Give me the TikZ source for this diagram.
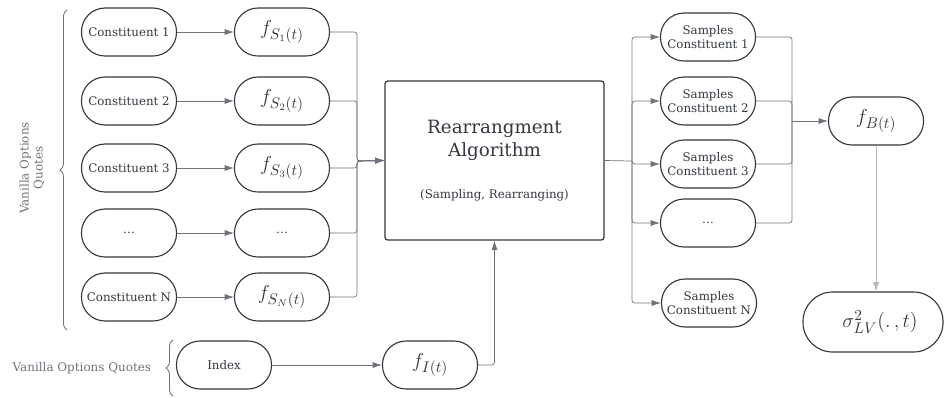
\documentclass[tikz,border=0pt]{standalone}
\usepackage{amsmath}
\usepackage{fontspec}
\setmainfont{DejaVu Serif}
\usepackage{xcolor}
\usepackage{tikz}
\usetikzlibrary{arrows.meta,decorations.pathreplacing}
\definecolor{ink}{HTML}{33383F}
\definecolor{wirec}{HTML}{6E737B}

\begin{document}
\begin{tikzpicture}[x=0.025cm,y=-0.025cm,>={Latex[length=2.3mm,width=1.5mm]},
  pill/.style={draw=ink,line width=0.8pt,rounded corners=0.59cm,
    minimum width=2.375cm,minimum height=1.2cm,inner sep=1pt,
    align=center,text=ink,font=\fontsize{8.4}{10}\selectfont},
  fpill/.style={pill,font=\fontsize{15}{17}\selectfont},
  wire/.style={draw=wirec,line width=0.5pt,rounded corners=2pt,->},
  brc/.style={draw=wirec,line width=0.6pt,decorate,
    decoration={brace,amplitude=5pt}}]
% Reference grid (temporary)
%\draw[help lines,step=50] (0,0) grid (944,397);
\useasboundingbox (0,0) rectangle (944,397);

% left column: constituents
\foreach \y/\n/\lab in {32/1/Constituent 1,101/2/Constituent 2,
    168/3/Constituent 3,233/4/\dots,297/5/Constituent N} {
  \node[pill] (c\n) at (129,\y) {\lab};
}
\node[fpill] (f1) at (282,32)  {$f_{S_1(t)}$};
\node[fpill] (f2) at (282,101) {$f_{S_2(t)}$};
\node[fpill] (f3) at (282,168) {$f_{S_3(t)}$};
\node[pill]  (f4) at (282,233) {\dots};
\node[fpill] (f5) at (282,297) {$f_{S_N(t)}$};

\node[pill]  (idx) at (224,365) {Index};
\node[fpill] (fI)  at (430,365) {$f_{I(t)}$};

% algorithm box
\node[draw=ink,line width=0.9pt,rounded corners=2pt,minimum width=5.475cm,
  minimum height=3.975cm,align=center,text=ink,
  font=\fontsize{13}{16}\selectfont] (algo) at (494.5,160.5)
  {Rearrangment\\Algorithm\\[14pt]
   \fontsize{8.4}{10}\selectfont (Sampling, Rearranging)};

% samples
\node[pill] (s1) at (708,37)  {Samples\\Constituent 1};
\node[pill] (s2) at (708,101) {Samples\\Constituent 2};
\node[pill] (s3) at (708,164) {Samples\\Constituent 3};
\node[pill] (s4) at (708,223) {\dots};
\node[pill] (s5) at (709,303) {Samples\\Constituent N};

\node[fpill] (fB) at (876,121) {$f_{B(t)}$};
\node[pill,minimum width=3.5cm,minimum height=1.5cm,rounded corners=0.74cm,
  font=\fontsize{15}{17}\selectfont] (sig) at (873,322)
  {\hspace*{10pt}$\sigma_{LV}^{2}(.\,,t)$};

% junctions
\coordinate (inL) at (357,161);
\coordinate (outR) at (632,161);
\coordinate (inB) at (792,121);

\foreach \n in {1,...,5} {
  \draw[wire] (c\n) -- (f\n);
  \draw[wire] (f\n.east) -| (inL) -- (algo.west);
  \draw[wire] (outR) |- (s\n.west);
}
\foreach \n in {1,...,4} {
  \draw[wire,-] (s\n.east) -| (inB);
}
\draw[wire,-] (algo.east) -- (outR);
\draw[wire] (inB) -- (fB.west);
\draw[wire] (idx) -- (fI);
\draw[wire] (fI.east) -| (algo.south);
\draw[wire,draw=gray!55] (fB.south) -- (fB.south |- sig.north);

% braces and their labels
\draw[brc] (67,330) -- (67,10);
\draw[brc] (173,396) -- (173,340);
\node[rotate=90,align=center,text=wirec,font=\fontsize{8.5}{10}\selectfont]
  (lblA) at (32,168) {Vanilla Options\\Quotes};
\node[anchor=east,text=wirec,font=\fontsize{8.5}{10}\selectfont]
  (lblB) at (156,368) {Vanilla Options Quotes};
\end{tikzpicture}
\end{document}
